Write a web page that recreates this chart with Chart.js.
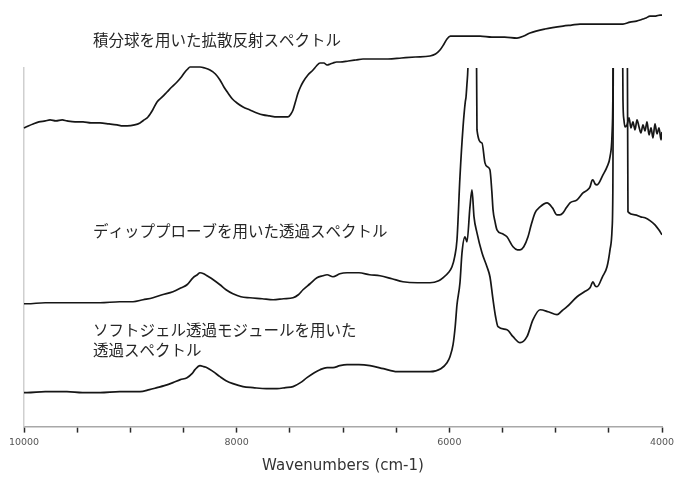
<!DOCTYPE html>
<html lang="ja">
<head>
<meta charset="utf-8">
<title>NIR spectra</title>
<script src="https://cdn.jsdelivr.net/npm/chart.js@4.4.1/dist/chart.umd.min.js"></script>
<style>
  html, body { margin: 0; padding: 0; background: #fff; }
</style>
</head>
<body>
<canvas id="myChart" width="674" height="477"></canvas>
<script>
// x tick values that get a printed label (cm-1)
var labelTicks = [10000, 8000, 6000, 4000];

// series names, drawn as text next to each trace
var reflName = '積分球を用いた拡散反射スペクトル';
var dipName = 'ディッププローブを用いた透過スペクトル';
var gelName = ['ソフトジェル透過モジュールを用いた', '透過スペクトル'];

// diffuse reflectance (integrating sphere)
var reflWn = [10000, 9960, 9915, 9860, 9800, 9755, 9700, 9640, 9596, 9520, 9445, 9370, 9285, 9200, 9125, 9070,
    9031, 8960, 8909, 8870, 8834, 8790, 8749, 8700, 8655, 8610, 8561, 8520, 8486, 8460, 8439, 8390, 8345, 8300,
    8251, 8200, 8157, 8120, 8082, 8040, 7997, 7940, 7875, 7810, 7752, 7690, 7621, 7570, 7517, 7490, 7470, 7445,
    7423, 7400, 7376, 7330, 7282, 7250, 7216, 7180, 7150, 7120, 7094, 7060, 7028, 6950, 6880, 6812, 6700, 6577,
    6450, 6320, 6182, 6130, 6088, 6050, 6022, 5990, 5965, 5900, 5800, 5711, 5600, 5480, 5364, 5300, 5241, 5100,
    4931, 4850, 4771, 4650, 4500, 4367, 4301, 4240, 4179, 4150, 4113, 4060, 4019, 4000];
var reflAbs = [2.99, 3.01, 3.03, 3.05, 3.06, 3.07, 3.06, 3.07, 3.06, 3.05, 3.05, 3.04, 3.04, 3.03, 3.02, 3.01,
    3.01, 3.02, 3.04, 3.07, 3.10, 3.17, 3.25, 3.30, 3.35, 3.40, 3.45, 3.50, 3.55, 3.58, 3.60, 3.60, 3.60, 3.59,
    3.57, 3.53, 3.47, 3.40, 3.34, 3.28, 3.24, 3.20, 3.17, 3.14, 3.12, 3.11, 3.10, 3.10, 3.10, 3.13, 3.17, 3.26,
    3.34, 3.40, 3.45, 3.52, 3.57, 3.61, 3.64, 3.64, 3.62, 3.63, 3.64, 3.65, 3.65, 3.66, 3.67, 3.68, 3.68, 3.68,
    3.69, 3.70, 3.71, 3.73, 3.77, 3.83, 3.88, 3.91, 3.91, 3.91, 3.91, 3.91, 3.90, 3.90, 3.89, 3.91, 3.94, 3.98,
    4.01, 4.02, 4.03, 4.03, 4.03, 4.03, 4.05, 4.06, 4.08, 4.09, 4.11, 4.11, 4.12, 4.12];

// transmission, dip probe (saturates above the plot top)
var dipWn = [10000, 9972, 9800, 9600, 9450, 9285, 9100, 8975, 8880, 8787, 8700, 8599, 8520, 8467, 8411, 8370,
    8345, 8310, 8279, 8220, 8157, 8100, 8035, 7960, 7875, 7760, 7658, 7560, 7470, 7420, 7376, 7310, 7245, 7190,
    7150, 7094, 7030, 6962, 6850, 6750, 6652, 6540, 6436, 6300, 6182, 6100, 6060, 6010, 5975, 5950, 5928, 5900,
    5871, 5850, 5843, 5835, 5825, 5805, 5750, 5740, 5693, 5665, 5640, 5618, 5600, 5589, 5570, 5552, 5500, 5458,
    5401, 5360, 5335, 5300, 5260, 5230, 5194, 5147, 5081, 5030, 4987, 4960, 4931, 4900, 4865, 4799, 4743, 4700,
    4677, 4660, 4649, 4630, 4611, 4555, 4517, 4489, 4470, 4462, 4455, 4329, 4320, 4254, 4200, 4160, 4110, 4066,
    4030, 4000];
var dipAbs = [1.23, 1.23, 1.24, 1.24, 1.24, 1.24, 1.25, 1.25, 1.27, 1.29, 1.32, 1.35, 1.39, 1.42, 1.49, 1.52,
    1.54, 1.53, 1.51, 1.47, 1.42, 1.37, 1.33, 1.30, 1.29, 1.28, 1.27, 1.28, 1.29, 1.32, 1.37, 1.43, 1.49, 1.51,
    1.52, 1.50, 1.53, 1.54, 1.54, 1.52, 1.51, 1.48, 1.45, 1.44, 1.44, 1.46, 1.49, 1.54, 1.60, 1.70, 1.87, 2.50,
    3.00, 3.25, 3.30, 3.42, 3.60, 4.60, 4.60, 2.97, 2.84, 2.64, 2.60, 2.57, 2.35, 2.17, 2.05, 1.97, 1.93, 1.90,
    1.80, 1.77, 1.77, 1.80, 1.90, 2.02, 2.14, 2.20, 2.24, 2.19, 2.12, 2.12, 2.14, 2.19, 2.24, 2.27, 2.34, 2.37,
    2.40, 2.46, 2.47, 2.43, 2.42, 2.52, 2.60, 2.70, 2.92, 3.30, 4.60, 4.60, 2.15, 2.12, 2.10, 2.09, 2.06, 2.02,
    1.97, 1.92];

// transmission, soft gel module
var gelWn = [10000, 9972, 9800, 9596, 9450, 9285, 9100, 8909, 8820, 8749, 8680, 8599, 8530, 8467, 8420, 8392,
    8345, 8310, 8279, 8220, 8157, 8100, 8035, 7940, 7846, 7720, 7621, 7540, 7470, 7400, 7339, 7270, 7216, 7150,
    7094, 7030, 6962, 6850, 6746, 6620, 6492, 6340, 6182, 6080, 6022, 5994, 5965, 5945, 5928, 5900, 5881, 5853,
    5834, 5806, 5787, 5768, 5740, 5693, 5646, 5618, 5589, 5565, 5542, 5458, 5401, 5335, 5270, 5213, 5147, 5070,
    4987, 4940, 4893, 4799, 4730, 4677, 4649, 4630, 4611, 4560, 4517, 4489, 4470, 4462, 4455, 4376, 4367, 4358,
    4348, 4329, 4310, 4292, 4273, 4254, 4235, 4216, 4198, 4179, 4160, 4141, 4122, 4103, 4085, 4066, 4047, 4028,
    4009, 4000];
var gelAbs = [0.34, 0.34, 0.35, 0.35, 0.34, 0.34, 0.35, 0.35, 0.37, 0.39, 0.41, 0.44, 0.47, 0.49, 0.53, 0.57,
    0.61, 0.60, 0.59, 0.55, 0.50, 0.46, 0.43, 0.40, 0.39, 0.38, 0.38, 0.39, 0.40, 0.44, 0.49, 0.54, 0.57, 0.59,
    0.59, 0.61, 0.62, 0.62, 0.61, 0.58, 0.55, 0.55, 0.55, 0.58, 0.64, 0.70, 0.82, 1.00, 1.22, 1.44, 1.74, 1.90,
    1.85, 2.20, 2.37, 2.10, 1.94, 1.74, 1.60, 1.50, 1.27, 1.10, 1.00, 0.97, 0.90, 0.84, 0.90, 1.07, 1.17, 1.15,
    1.12, 1.16, 1.20, 1.30, 1.35, 1.39, 1.45, 1.41, 1.40, 1.50, 1.60, 1.77, 1.97, 2.40, 4.60, 4.60, 3.27, 3.07,
    3.00, 3.02, 3.09, 2.99, 3.05, 2.97, 3.07, 3.00, 2.94, 3.02, 2.96, 3.05, 2.92, 2.99, 2.89, 3.03, 2.93, 2.99,
    2.87, 2.95];

function toPoints(wn, abs) {
    var pts = [];
    for (let i = 0; i < wn.length; i++) pts.push({x: wn[i], y: abs[i]});
    return pts;
}

// trace names are written at a fixed wavenumber, just above each trace
var nameX = 9350;
var names = [
    {text: reflName, at: 3.87},
    {text: dipName, at: 1.96},
    {text: gelName[0], at: 0.97},
    {text: gelName[1], at: 0.77}
];

const traceNames = {
    id: 'traceNames',
    afterDatasetsDraw(chart) {
        const c = chart.ctx;
        const xs = chart.scales.x, ys = chart.scales.y;
        c.save();
        c.fillStyle = '#262626';
        c.font = '15.5px "Noto Sans CJK JP"';
        c.textAlign = 'left';
        c.textBaseline = 'middle';
        names.forEach(n => c.fillText(n.text, xs.getPixelForValue(nameX), ys.getPixelForValue(n.at)));
        c.restore();
    }
};

function trace(label, pts, clip) {
    return {
        label: label,
        data: pts,
        borderColor: '#161616',
        borderWidth: 1.7,
        pointRadius: 0,
        cubicInterpolationMode: 'monotone',
        fill: false,
        clip: clip
    };
}

const ctx = document.getElementById('myChart').getContext('2d');
const myChart = new Chart(ctx, {
    type: 'line',
    data: {
        datasets: [
            trace(reflName, toPoints(reflWn, reflAbs), false),
            trace(dipName, toPoints(dipWn, dipAbs), undefined),
            trace(gelName.join(''), toPoints(gelWn, gelAbs), undefined)
        ]
    },
    options: {
        responsive: false,
        animation: false,
        layout: {autoPadding: false, padding: {top: 68, left: 16, right: 12, bottom: 0}},
        plugins: {
            legend: {display: false},
            tooltip: {enabled: false}
        },
        scales: {
            x: {
                type: 'linear',
                reverse: true,
                min: 4000,
                max: 10000,
                // let the end labels run past the plot edges (4000 is cut at the right border)
                afterFit: s => { s.paddingLeft = 0; s.paddingRight = 0; },
                ticks: {
                    stepSize: 500,
                    autoSkip: false,
                    maxRotation: 0,
                    padding: 4,
                    color: '#555',
                    font: {family: 'DejaVu Sans', size: 9.5},
                    callback: v => labelTicks.includes(v) ? String(v) : ''
                },
                grid: {drawOnChartArea: false, tickLength: 6, tickColor: '#2a2a2a', tickWidth: 1.5},
                border: {color: '#a8a8a8', width: 1.5},
                title: {
                    display: true,
                    text: 'Wavenumbers (cm-1)',
                    color: '#333',
                    font: {family: 'DejaVu Sans', size: 15},
                    padding: {top: 5, bottom: 2}
                }
            },
            y: {
                min: 0,
                max: 3.59,
                ticks: {display: false},
                grid: {display: false},
                border: {display: true, color: '#cfcfcf', width: 1.5}
            }
        }
    },
    plugins: [traceNames]
});
</script>
</body>
</html>
